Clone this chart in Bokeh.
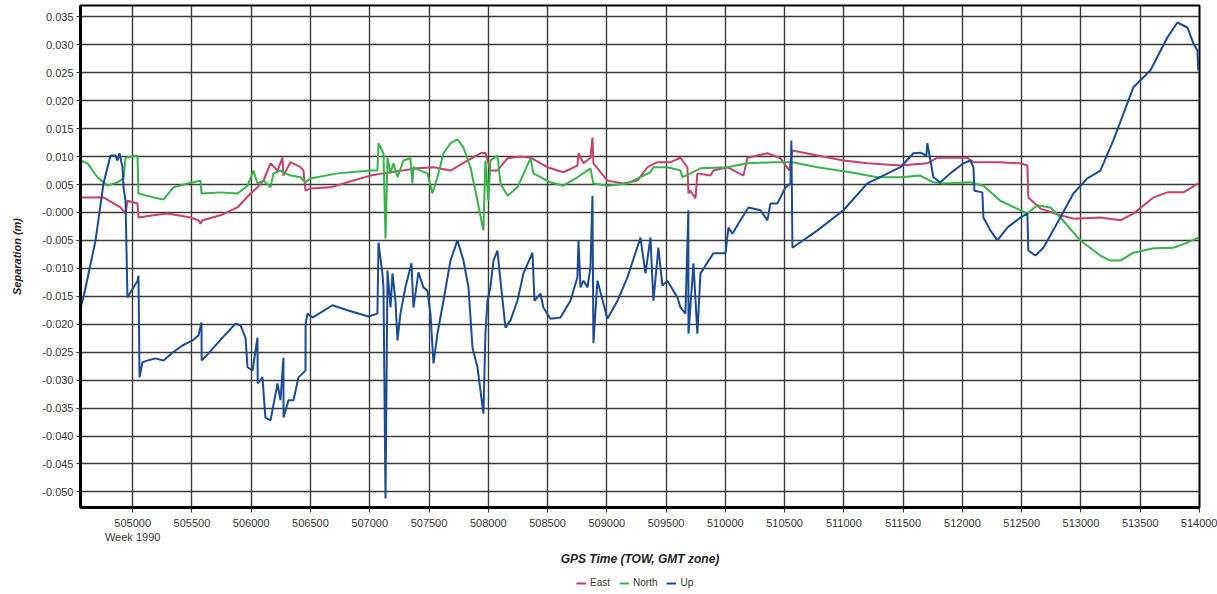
from bokeh.plotting import figure
from bokeh.layouts import column
from bokeh.models import (FixedTicker, CustomJSTickFormatter, Legend, LegendItem, Range1d)
from bokeh.embed import file_html
from bokeh.resources import INLINE

# ---------------- data (GPS time of week, separation in metres) ----------------
up_t = [504560, 504585, 504687, 504754, 504813, 504855, 504872, 504889, 504914, 504923,
        504940, 504956, 504965, 505041, 505049, 505058, 505083, 505125, 505193, 505260,
        505336, 505420, 505505, 505555, 505581, 505582, 505640, 505758, 505867, 505910,
        505952, 505969, 506011, 506053, 506055, 506095, 506120, 506163, 506222, 506247,
        506272, 506273, 506314, 506357, 506399, 506458, 506459, 506475, 506517, 506686,
        506812, 506989, 507065, 507074, 507107, 507116, 507133, 507150, 507175, 507192,
        507217, 507234, 507259, 507301, 507352, 507369, 507411, 507453, 507487, 507512,
        507538, 507571, 507622, 507681, 507740, 507791, 507833, 507867, 507909, 507959,
        507976, 507993, 508018, 508044, 508077, 508103, 508145, 508187, 508246, 508297,
        508373, 508390, 508440, 508465, 508524, 508609, 508693, 508752, 508761, 508778,
        508803, 508837, 508862, 508879, 508887, 508921, 509005, 509090, 509174, 509284,
        509326, 509368, 509393, 509435, 509469, 509511, 509596, 509621, 509663, 509688,
        509689, 509731, 509764, 509790, 509899, 510001, 510026, 510060, 510127, 510195,
        510296, 510355, 510380, 510439, 510507, 510549, 510557, 510566, 510777, 510996,
        511198, 511477, 511586, 511645, 511696, 511704, 511730, 511755, 511814, 511898,
        512008, 512067, 512093, 512101, 512168, 512177, 512236, 512295, 512379, 512489,
        512548, 512556, 512615, 512683, 512826, 512936, 513054, 513164, 513273, 513442,
        513585, 513729, 513813, 513898, 513948, 513982, 513990]
up_v = [-0.0170, -0.0152, -0.0050, 0.0052, 0.0102, 0.0102, 0.0093, 0.0106, 0.0081, 0.0045,
        0.0021, -0.0152, -0.0149, -0.0122, -0.0113, -0.0295, -0.0268, -0.0265, -0.0261, -0.0265,
        -0.0251, -0.0238, -0.0229, -0.0220, -0.0197, -0.0265, -0.0252, -0.0224, -0.0199, -0.0202,
        -0.0224, -0.0277, -0.0283, -0.0224, -0.0306, -0.0295, -0.0367, -0.0372, -0.0306, -0.0336,
        -0.0260, -0.0367, -0.0336, -0.0336, -0.0295, -0.0283, -0.0199, -0.0181, -0.0188, -0.0166,
        -0.0175, -0.0186, -0.0181, -0.0054, -0.0109, -0.0134, -0.0512, -0.0104, -0.0170, -0.0109,
        -0.0158, -0.0229, -0.0181, -0.0134, -0.0091, -0.0170, -0.0107, -0.0134, -0.0140, -0.0181,
        -0.0270, -0.0217, -0.0158, -0.0086, -0.0050, -0.0086, -0.0134, -0.0242, -0.0277, -0.0360,
        -0.0217, -0.0158, -0.0134, -0.0086, -0.0068, -0.0122, -0.0206, -0.0193, -0.0158, -0.0109,
        -0.0072, -0.0158, -0.0145, -0.0170, -0.0190, -0.0188, -0.0158, -0.0116, -0.0050, -0.0134,
        -0.0122, -0.0134, -0.0098, 0.0030, -0.0234, -0.0122, -0.0190, -0.0158, -0.0116, -0.0045,
        -0.0109, -0.0045, -0.0158, -0.0063, -0.0131, -0.0122, -0.0152, -0.0170, -0.0181, 0.0004,
        -0.0217, -0.0091, -0.0217, -0.0109, -0.0073, -0.0073, -0.0027, -0.0038, -0.0014, 0.0009,
        0.0004, -0.0014, 0.0016, 0.0016, 0.0045, 0.0052, 0.0129, -0.0063, -0.0032, 0.0004,
        0.0052, 0.0081, 0.0106, 0.0107, 0.0102, 0.0124, 0.0093, 0.0063, 0.0054, 0.0070,
        0.0088, 0.0093, 0.0081, 0.0039, 0.0036, -0.0009, -0.0032, -0.0050, -0.0027, -0.0009,
        -0.0002, -0.0068, -0.0077, -0.0063, -0.0009, 0.0034, 0.0061, 0.0075, 0.0129, 0.0224,
        0.0254, 0.0313, 0.0340, 0.0331, 0.0303, 0.0290, 0.0254]

east_t = [504560, 504754, 504897, 504940, 504956, 505041, 505049, 505176, 505294, 505488,
          505555, 505572, 505589, 505741, 505884, 505994, 506053, 506104, 506163, 506222,
          506264, 506272, 506331, 506416, 506441, 506458, 506500, 506669, 506812, 507006,
          507116, 507402, 507538, 507681, 507824, 507934, 507976, 508018, 508077, 508162,
          508271, 508356, 508499, 508634, 508752, 508761, 508803, 508862, 508879, 508887,
          509005, 509140, 509258, 509343, 509427, 509537, 509621, 509680, 509689, 509706,
          509748, 509764, 509874, 509899, 510017, 510153, 510186, 510355, 510465, 510541,
          510566, 510777, 510996, 511198, 511477, 511704, 511789, 512042, 512093, 512320,
          512489, 512548, 512556, 512658, 512826, 512936, 513164, 513332, 513442, 513611,
          513729, 513864, 513990]
east_v = [0.0027, 0.0027, 0.0009, -0.0002, 0.0021, 0.0016, -0.0009, -0.0005, -0.0002, -0.0009,
          -0.0014, -0.0020, -0.0014, -0.0005, 0.0009, 0.0034, 0.0045, 0.0057, 0.0088, 0.0075,
          0.0098, 0.0066, 0.0090, 0.0081, 0.0075, 0.0039, 0.0043, 0.0045, 0.0054, 0.0066,
          0.0070, 0.0079, 0.0081, 0.0075, 0.0093, 0.0106, 0.0107, 0.0075, 0.0075, 0.0097,
          0.0100, 0.0098, 0.0081, 0.0072, 0.0084, 0.0106, 0.0088, 0.0098, 0.0134, 0.0088,
          0.0057, 0.0052, 0.0057, 0.0081, 0.0090, 0.0090, 0.0098, 0.0081, 0.0034, 0.0039,
          0.0025, 0.0070, 0.0066, 0.0075, 0.0081, 0.0066, 0.0098, 0.0106, 0.0097, 0.0075,
          0.0111, 0.0102, 0.0093, 0.0088, 0.0084, 0.0088, 0.0098, 0.0098, 0.0090, 0.0090,
          0.0088, 0.0084, 0.0027, 0.0007, -0.0005, -0.0011, -0.0009, -0.0014, -0.0002, 0.0027,
          0.0036, 0.0036, 0.0052]

north_t = [504560, 504619, 504703, 504788, 504872, 504923, 504940, 505041, 505049, 505176,
           505260, 505344, 505463, 505572, 505581, 505741, 505884, 505969, 506019, 506053,
           506104, 506163, 506188, 506247, 506272, 506331, 506416, 506458, 506500, 506728,
           507006, 507065, 507074, 507116, 507133, 507150, 507175, 507200, 507234, 507284,
           507343, 507360, 507369, 507428, 507487, 507529, 507571, 507622, 507681, 507740,
           507791, 507850, 507909, 507959, 507976, 508001, 508018, 508077, 508103, 508162,
           508246, 508356, 508381, 508524, 508634, 508752, 508862, 508887, 509005, 509174,
           509368, 509393, 509511, 509621, 509638, 509790, 510017, 510186, 510406, 510566,
           510777, 511055, 511283, 511477, 511645, 511755, 511839, 512067, 512177, 512320,
           512489, 512548, 512632, 512742, 512826, 512995, 513164, 513249, 513332, 513442,
           513611, 513779, 513898, 513990]
north_v = [0.0093, 0.0088, 0.0063, 0.0048, 0.0054, 0.0061, 0.0098, 0.0102, 0.0034, 0.0027,
           0.0023, 0.0045, 0.0052, 0.0057, 0.0034, 0.0036, 0.0034, 0.0048, 0.0075, 0.0052,
           0.0057, 0.0045, 0.0070, 0.0075, 0.0072, 0.0066, 0.0063, 0.0054, 0.0061, 0.0070,
           0.0075, 0.0075, 0.0124, 0.0106, -0.0047, 0.0098, 0.0070, 0.0088, 0.0063, 0.0093,
           0.0097, 0.0052, 0.0081, 0.0075, 0.0070, 0.0034, 0.0063, 0.0106, 0.0124, 0.0131,
           0.0116, 0.0081, 0.0021, -0.0032, 0.0093, 0.0021, 0.0093, 0.0102, 0.0052, 0.0030,
           0.0045, 0.0097, 0.0070, 0.0054, 0.0048, 0.0063, 0.0079, 0.0052, 0.0048, 0.0052,
           0.0072, 0.0081, 0.0081, 0.0075, 0.0063, 0.0079, 0.0081, 0.0088, 0.0090, 0.0090,
           0.0081, 0.0072, 0.0063, 0.0063, 0.0066, 0.0054, 0.0052, 0.0054, 0.0048, 0.0021,
           0.0004, -0.0002, 0.0013, 0.0009, -0.0009, -0.0050, -0.0077, -0.0086, -0.0086, -0.0072,
           -0.0064, -0.0063, -0.0054, -0.0045]

series_names = ["East", "North", "Up"]
series_colors = ["#c8406c", "#37b34a", "#1b4b96"]
x_ticks = list(range(504500, 514001, 500))
y_ticks = [round(i * 0.005, 3) for i in range(-10, 8)]
week_label = "Week 1990"

FONT = "Liberation Sans"

# ---------------- main figure ----------------
p = figure(width=1217, height=570, output_backend="svg", toolbar_location=None,
           x_range=Range1d(504560, 514000), y_range=Range1d(-0.05279, 0.03704),
           min_border_left=80, min_border_right=18, min_border_top=5, min_border_bottom=63)

p.outline_line_color = "black"
p.outline_line_width = 2
p.background_fill_color = "white"
p.border_fill_color = "white"

data = [(east_t, east_v), (north_t, north_v), (up_t, up_v)]
for (tt, vv), c in zip(data, series_colors):
    p.line(tt, vv, line_color=c, line_width=2)

xa = p.xaxis[0]
xa.ticker = FixedTicker(ticks=x_ticks)
xa.formatter = CustomJSTickFormatter(args=dict(wk=week_label), code="""
    if (tick == 505000) { return tick.toFixed(0) + "\\n" + wk; }
    return tick.toFixed(0);
""")
xa.axis_line_color = "black"
xa.axis_line_width = 3
xa.major_tick_out = 5
xa.major_tick_in = 0
xa.minor_tick_out = 0
xa.minor_tick_in = 0
xa.major_tick_line_color = "#333333"
xa.major_label_text_font = FONT
xa.major_label_text_font_size = "11px"
xa.major_label_text_color = "#333333"
xa.major_label_standoff = 4
xa.axis_label = "GPS Time (TOW, GMT zone)"
xa.axis_label_text_font = FONT
xa.axis_label_text_font_size = "12px"
xa.axis_label_text_font_style = "bold italic"
xa.axis_label_text_color = "#222222"
xa.axis_label_standoff = 6

ya = p.yaxis[0]
ya.ticker = FixedTicker(ticks=y_ticks)
ya.formatter = CustomJSTickFormatter(code="""
    if (Math.abs(tick) < 1e-9) { return "-0.000"; }
    return tick.toFixed(3);
""")
ya.axis_line_color = "black"
ya.axis_line_width = 3
ya.major_tick_out = 4
ya.major_tick_in = 0
ya.minor_tick_out = 0
ya.minor_tick_in = 0
ya.major_tick_line_color = "#333333"
ya.major_label_text_font = FONT
ya.major_label_text_font_size = "11px"
ya.major_label_text_color = "#333333"
ya.major_label_standoff = 3
ya.axis_label = "Separation (m)"
ya.axis_label_text_font = FONT
ya.axis_label_text_font_size = "11px"
ya.axis_label_text_font_style = "bold italic"
ya.axis_label_text_color = "#222222"
ya.axis_label_standoff = 16

for g in (p.xgrid[0], p.ygrid[0]):
    g.grid_line_color = "#3a3a3a"
    g.grid_line_width = 1.4
p.xgrid[0].ticker = FixedTicker(ticks=x_ticks)
p.ygrid[0].ticker = FixedTicker(ticks=y_ticks)

# ---------------- legend strip below ----------------
lg = figure(width=1217, height=24, output_backend="svg", toolbar_location=None,
            x_axis_type=None, y_axis_type=None,
            x_range=Range1d(0, 1), y_range=Range1d(0, 1),
            min_border_left=0, min_border_right=0, min_border_top=0, min_border_bottom=0)
lg.outline_line_color = None
lg.grid.visible = False
items = []
for (tt, vv), c, name in zip(data, series_colors, series_names):
    r = lg.line(tt, vv, line_color=c, line_width=2)
    items.append(LegendItem(label=name, renderers=[r]))
legend = Legend(items=items, orientation="horizontal", location=(494, 4),
                label_text_font=FONT, label_text_font_size="10px",
                label_text_color="#333333",
                glyph_width=10, glyph_height=10, label_standoff=4, spacing=9,
                padding=2, margin=0,
                border_line_alpha=0, background_fill_alpha=0)
lg.add_layout(legend, "center")

layout = column(p, lg, spacing=0)
open("out.html", "w").write(file_html(layout, INLINE))
